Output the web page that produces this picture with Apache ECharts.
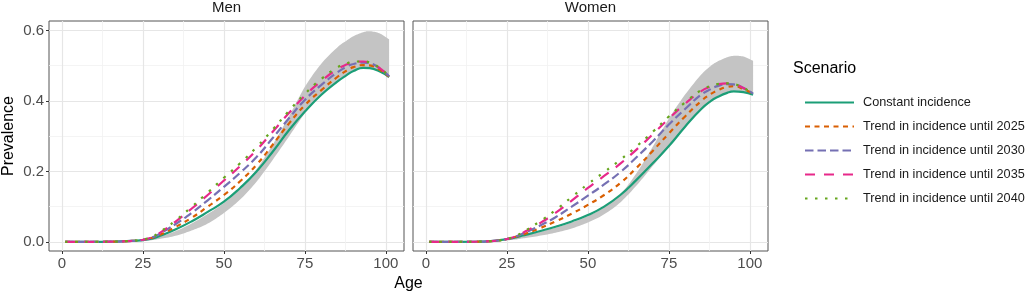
<!DOCTYPE html>
<html><head><meta charset="utf-8">
<script src="https://cdn.jsdelivr.net/npm/echarts@6/dist/echarts.min.js"></script>
<style>html,body{margin:0;padding:0;background:#fff}#c{width:1027px;height:294px}</style>
</head><body><div id="c"></div>
<script>
const ages = [1,5,10,15,20,25,28,30,35,40,45,50,55,60,65,70,75,80,85,88,90,93,95,98,101];
const scenarios = ['Constant incidence','Trend in incidence until 2025','Trend in incidence until 2030','Trend in incidence until 2035','Trend in incidence until 2040'];
const panels = ['Men','Women'];

const menConstant = [0,0,0,0.0005,0.002,0.005,0.010,0.016,0.035,0.058,0.085,0.114,0.153,0.199,0.255,0.316,0.370,0.417,0.455,0.474,0.485,0.494,0.493,0.484,0.468];
const men2025 = [0,0,0,0.0005,0.002,0.006,0.012,0.019,0.042,0.068,0.100,0.133,0.172,0.218,0.275,0.335,0.388,0.430,0.468,0.487,0.496,0.502,0.501,0.489,0.469];
const men2030 = [0,0,0,0.0005,0.002,0.006,0.013,0.022,0.050,0.082,0.118,0.156,0.196,0.240,0.294,0.350,0.403,0.445,0.481,0.498,0.505,0.509,0.507,0.493,0.470];
const men2035 = [0,0,0,0.0005,0.002,0.006,0.014,0.024,0.057,0.094,0.133,0.174,0.215,0.260,0.312,0.365,0.415,0.456,0.490,0.504,0.510,0.512,0.509,0.494,0.470];
const men2040 = [0,0,0,0.0005,0.002,0.007,0.015,0.026,0.060,0.099,0.140,0.182,0.223,0.268,0.318,0.371,0.420,0.462,0.495,0.507,0.512,0.512,0.509,0.494,0.470];
const menBandLow = [0,0,0,0,0.001,0.002,0.005,0.008,0.017,0.032,0.052,0.082,0.120,0.170,0.232,0.298,0.365,0.418,0.457,0.476,0.487,0.496,0.495,0.486,0.468];
const menBandHigh = [0,0,0,0.0005,0.002,0.004,0.009,0.014,0.030,0.052,0.079,0.110,0.150,0.205,0.275,0.355,0.440,0.505,0.552,0.572,0.584,0.595,0.598,0.592,0.575];

const womenConstant = [0,0,0,0.0003,0.002,0.008,0.013,0.018,0.030,0.043,0.058,0.076,0.100,0.133,0.176,0.223,0.272,0.327,0.377,0.400,0.411,0.423,0.427,0.425,0.418];
const women2025 = [0,0,0,0.0003,0.002,0.008,0.015,0.021,0.038,0.058,0.080,0.105,0.133,0.167,0.210,0.258,0.308,0.356,0.400,0.420,0.430,0.440,0.442,0.434,0.420];
const women2030 = [0,0,0,0.0003,0.002,0.008,0.016,0.024,0.045,0.070,0.100,0.131,0.163,0.198,0.240,0.285,0.333,0.377,0.418,0.434,0.442,0.448,0.447,0.437,0.421];
const women2035 = [0,0,0,0.0003,0.002,0.008,0.017,0.026,0.052,0.082,0.117,0.153,0.187,0.222,0.262,0.305,0.350,0.392,0.428,0.441,0.447,0.450,0.448,0.437,0.421];
const women2040 = [0,0,0,0.0003,0.002,0.008,0.018,0.028,0.057,0.090,0.127,0.164,0.198,0.233,0.271,0.312,0.356,0.396,0.431,0.443,0.448,0.450,0.448,0.437,0.421];
const womenBandLow = [0,0,0,0,0.001,0.004,0.007,0.010,0.017,0.026,0.038,0.055,0.078,0.112,0.160,0.215,0.270,0.325,0.378,0.402,0.413,0.425,0.429,0.427,0.418];
const womenBandHigh = [0,0,0,0.0003,0.002,0.007,0.012,0.016,0.028,0.040,0.055,0.073,0.098,0.135,0.195,0.270,0.350,0.418,0.475,0.500,0.512,0.524,0.528,0.526,0.514];

const xTicks = [0,25,50,75,100];
const xMinorTicks = [12.5,37.5,62.5,87.5];
const yTicks = [0,0.2,0.4,0.6];
const yMinorTicks = [0.1,0.3,0.5];

const colors = ['#1B9E77','#D95F02','#7570B3','#E7298A','#66A61E'];
const dashes = ['solid',[5,4.5],[8.5,4],[10,9],[2.5,7.5]];
const FONT = 'Liberation Sans, Arial, sans-serif';

const panelSeries = [
  [menConstant,men2025,men2030,men2035,men2040],
  [womenConstant,women2025,women2030,women2035,women2040]
];
const panelBands = [[menBandLow,menBandHigh],[womenBandLow,womenBandHigh]];

const grids = [
  {left:49, top:21, width:355, height:230},
  {left:413, top:21, width:355, height:230}
].map(g => Object.assign(g, {show:true, borderColor:'#555', borderWidth:1, backgroundColor:'transparent', outerBoundsMode:'none', containLabel:false}));

const X_MIN = -4, X_MAX = 105.6, Y_MIN = -0.026, Y_MAX = 0.627;
const xAxes = [], yAxes = [];
[0,1].forEach(gi => {
  xAxes.push({type:'value', gridIndex:gi, min:X_MIN, max:X_MAX,
    axisLine:{show:false, onZero:false},
    axisTick:{show:true, length:3, customValues:xTicks, lineStyle:{color:'#333', width:1}},
    axisLabel:{show:true, customValues:xTicks, margin:5, fontSize:15, color:'#4D4D4D', fontFamily:FONT},
    splitLine:{show:true, lineStyle:{color:'#E6E6E6', width:1.2}}});
  xAxes.push({type:'value', gridIndex:gi, min:X_MIN, max:X_MAX,
    axisLine:{show:false, onZero:false},
    axisTick:{show:false, customValues:xMinorTicks},
    axisLabel:{show:false, customValues:xMinorTicks},
    splitLine:{show:true, lineStyle:{color:'#F1F1F1', width:0.8}}});
  yAxes.push({type:'value', gridIndex:gi, min:Y_MIN, max:Y_MAX,
    axisLine:{show:false, onZero:false},
    axisTick:{show:gi===0, length:3, customValues:yTicks, lineStyle:{color:'#333', width:1}},
    axisLabel:{show:gi===0, customValues:yTicks, margin:5, fontSize:15, color:'#4D4D4D', fontFamily:FONT, formatter:v=>v.toFixed(1)},
    splitLine:{show:true, lineStyle:{color:'#E6E6E6', width:1.2}},
    name: gi===0 ? 'Prevalence' : '', nameLocation:'middle', nameGap:32,
    nameTextStyle:{fontSize:16, color:'#000', fontFamily:FONT}});
  yAxes.push({type:'value', gridIndex:gi, min:Y_MIN, max:Y_MAX,
    axisLine:{show:false, onZero:false},
    axisTick:{show:false, customValues:yMinorTicks},
    axisLabel:{show:false, customValues:yMinorTicks},
    splitLine:{show:true, lineStyle:{color:'#F1F1F1', width:0.8}}});
});

function catmull(pts, steps) {
  const out = [];
  for (let i = 0; i < pts.length - 1; i++) {
    const p0 = pts[Math.max(i-1,0)], p1 = pts[i], p2 = pts[i+1], p3 = pts[Math.min(i+2,pts.length-1)];
    for (let s = 0; s < steps; s++) {
      const t = s/steps, t2 = t*t, t3 = t2*t;
      const f = k => 0.5*((2*p1[k]) + (-p0[k]+p2[k])*t + (2*p0[k]-5*p1[k]+4*p2[k]-p3[k])*t2 + (-p0[k]+3*p1[k]-3*p2[k]+p3[k])*t3);
      out.push([f(0), f(1)]);
    }
  }
  out.push(pts[pts.length-1]);
  return out;
}

const series = [];
[0,1].forEach(gi => {
  const [lo, hi] = panelBands[gi];
  series.push({
    type:'custom', xAxisIndex:gi*2, yAxisIndex:gi*2, silent:true, z:1,
    data: ages.map((a,i)=>[a, lo[i], hi[i]]),
    encode:{x:0, y:[1,2]},
    renderItem: (params, api) => {
      if (params.dataIndex !== 0) return null;
      const up = ages.map((a,i)=>api.coord([a, hi[i]]));
      const dn = ages.map((a,i)=>api.coord([a, lo[i]]));
      const pts = catmull(up, 10).concat(catmull(dn, 10).reverse());
      return {type:'polygon', shape:{points:pts}, style:{fill:'#C4C4C4', stroke:null}};
    }
  });
  panelSeries[gi].forEach((vals, si) => {
    series.push({
      type:'line', name:scenarios[si], xAxisIndex:gi*2, yAxisIndex:gi*2,
      data: ages.map((a,i)=>[a, vals[i]]),
      smooth:0.5, symbol:'none', showSymbol:false, silent:true, z:2+si,
      lineStyle:{color:colors[si], width:2.2, type:dashes[si], cap:'butt'},
      itemStyle:{color:colors[si]}
    });
  });
});

const chart = echarts.init(document.getElementById('c'), null, {renderer:'canvas'});
chart.setOption({
  animation:false,
  backgroundColor:'#fff',
  textStyle:{fontFamily:FONT},
  grid:grids, xAxis:xAxes, yAxis:yAxes, series,
  title:{text:'Scenario', left:793, top:61, padding:0, textStyle:{fontSize:16, fontWeight:'normal', color:'#000', fontFamily:FONT}},
  legend:{orient:'vertical', left:799, top:91, itemWidth:49, itemHeight:14, itemGap:11, selectedMode:false,
    itemStyle:{opacity:0, borderWidth:0},
    data:scenarios, textStyle:{fontSize:12.7, color:'#1a1a1a', fontFamily:FONT, padding:[0,0,0,4]}},
  graphic:[
    {type:'text', x:226.5, y:8, style:{text:panels[0], fontSize:15, fill:'#1a1a1a', fontFamily:FONT, align:'center', verticalAlign:'middle'}},
    {type:'text', x:590.5, y:8, style:{text:panels[1], fontSize:15, fill:'#1a1a1a', fontFamily:FONT, align:'center', verticalAlign:'middle'}},
    {type:'text', x:408.5, y:284, style:{text:'Age', fontSize:16, fill:'#000', fontFamily:FONT, align:'center', verticalAlign:'middle'}}
  ]
});
</script></body></html>
